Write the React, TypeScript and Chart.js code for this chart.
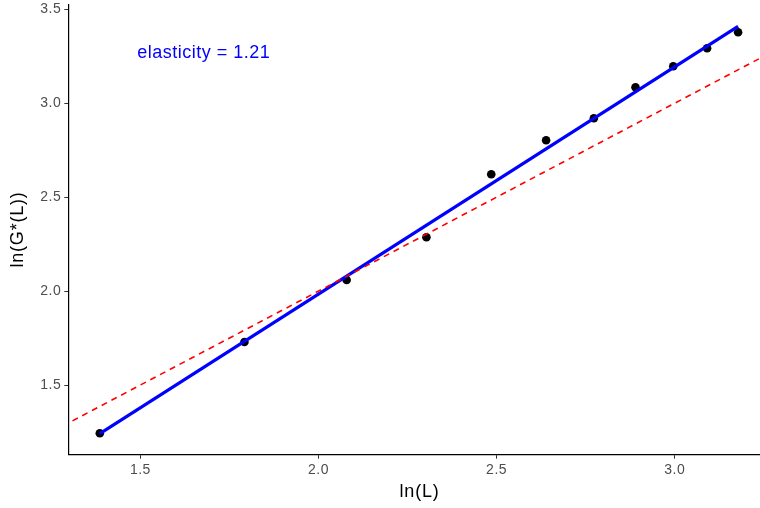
import React, { useEffect, useRef } from "react";
import { Chart, registerables } from "chart.js";

Chart.register(...registerables);

// Data: x = ln(L), y = ln(G*(L))
const lnL = [1.386, 1.792, 2.079, 2.303, 2.485, 2.639, 2.773, 2.890, 2.996, 3.091, 3.178];
const lnG = [1.243, 1.729, 2.059, 2.287, 2.622, 2.803, 2.920, 3.085, 3.197, 3.293, 3.378];

// Fitted regression line (elasticity = 1.21) endpoints
const fitX = [1.386, 3.178];
const fitY = [1.241, 3.409];

// 45-degree reference line (slope 1) endpoints
const refX = [1.2, 3.4];
const refY = [1.2, 3.4];

const xTicks = [1.5, 2.0, 2.5, 3.0];
const yTicks = [1.5, 2.0, 2.5, 3.0, 3.5];

const X_MIN = 1.2975;
const X_MAX = 3.2676;
const Y_MIN = 1.129;
const Y_MAX = 3.523;

const annotationText = "elasticity = 1.21";
const annotationX = 1.677;
const annotationY = 3.266;

const FONT = "'Liberation Sans', Arial, Helvetica, sans-serif";

export default function App() {
  const ref = useRef<HTMLCanvasElement | null>(null);

  useEffect(() => {
    const canvas = ref.current;
    if (!canvas) return;

    const textPlugin = {
      id: "textPlugin",
      beforeDraw(chart: any) {
        chart.ctx.letterSpacing = "0.5px";
      },
      afterDraw(chart: any) {
        const ctx = chart.ctx;
        const xs = chart.scales.x;
        const ys = chart.scales.y;
        const area = chart.chartArea;
        ctx.save();
        ctx.textAlign = "center";
        ctx.textBaseline = "middle";
        // annotation
        ctx.letterSpacing = "0.5px";
        ctx.fillStyle = "#0000FF";
        ctx.font = `18px ${FONT}`;
        ctx.fillText(annotationText, xs.getPixelForValue(annotationX) + 0.25, ys.getPixelForValue(annotationY));
        // axis titles
        ctx.letterSpacing = "0.8px";
        ctx.fillStyle = "#000000";
        ctx.font = `18px ${FONT}`;
        ctx.fillText("ln(L)", (area.left + area.right) / 2 + 0.4, 492);
        ctx.translate(18, (area.top + area.bottom) / 2);
        ctx.rotate(-Math.PI / 2);
        ctx.fillText("ln(G*(L))", 0.4, 0);
        ctx.restore();
      },
    };

    const chart = new Chart(canvas, {
      type: "scatter",
      data: {
        datasets: [
          {
            type: "line",
            label: "ref",
            data: refX.map((x, i) => ({ x, y: refY[i] })),
            borderColor: "#FF0000",
            borderWidth: 1.6,
            borderDash: [6, 5],
            pointRadius: 0,
            fill: false,
            order: 0,
          },
          {
            type: "line",
            label: "fit",
            data: fitX.map((x, i) => ({ x, y: fitY[i] })),
            borderColor: "#0000FF",
            borderWidth: 3.2,
            pointRadius: 0,
            fill: false,
            order: 1,
          },
          {
            type: "scatter",
            label: "points",
            data: lnL.map((x, i) => ({ x, y: lnG[i] })),
            backgroundColor: "#000000",
            borderColor: "#000000",
            pointRadius: 4.3,
            borderWidth: 0,
            order: 2,
          },
        ],
      },
      options: {
        animation: false,
        responsive: false,
        maintainAspectRatio: false,
        layout: { autoPadding: false, padding: { top: 5, left: 0, right: 0, bottom: 0 } },
        plugins: {
          legend: { display: false },
          tooltip: { enabled: false },
        },
        scales: {
          x: {
            type: "linear",
            min: X_MIN,
            max: X_MAX,
            afterBuildTicks: (s: any) => {
              s.ticks = xTicks.map((v) => ({ value: v }));
            },
            afterFit: (s: any) => {
              s.height = 53.3;
              s.paddingLeft = 0;
              s.paddingRight = 0;
            },
            ticks: {
              color: "#4D4D4D",
              font: { size: 14, family: FONT },
              padding: 3,
              callback: (v: any) => Number(v).toFixed(1),
              maxRotation: 0,
            },
            grid: {
              display: true,
              drawOnChartArea: false,
              drawTicks: true,
              tickLength: 4,
              color: "#333333",
              lineWidth: 1,
            },
            border: { display: true, color: "#000000", width: 1.2 },
          },
          y: {
            type: "linear",
            min: Y_MIN,
            max: Y_MAX,
            afterBuildTicks: (s: any) => {
              s.ticks = yTicks.map((v) => ({ value: v }));
            },
            afterFit: (s: any) => {
              s.width = 68.3;
              s.paddingTop = 0;
              s.paddingBottom = 0;
            },
            ticks: {
              color: "#4D4D4D",
              font: { size: 14, family: FONT },
              padding: 3,
              callback: (v: any) => Number(v).toFixed(1),
            },
            grid: {
              display: true,
              drawOnChartArea: false,
              drawTicks: true,
              tickLength: 4,
              color: "#333333",
              lineWidth: 1,
            },
            border: { display: true, color: "#000000", width: 1.2 },
          },
        },
      },
      plugins: [textPlugin],
    } as any);

    return () => chart.destroy();
  }, []);

  return (
    <div
      style={{
        position: "fixed",
        left: 0,
        top: 0,
        width: 760,
        height: 508,
        overflow: "hidden",
        background: "#ffffff",
      }}
    >
      <canvas ref={ref} width={770} height={508} style={{ display: "block", width: 770, height: 508 }} />
    </div>
  );
}
